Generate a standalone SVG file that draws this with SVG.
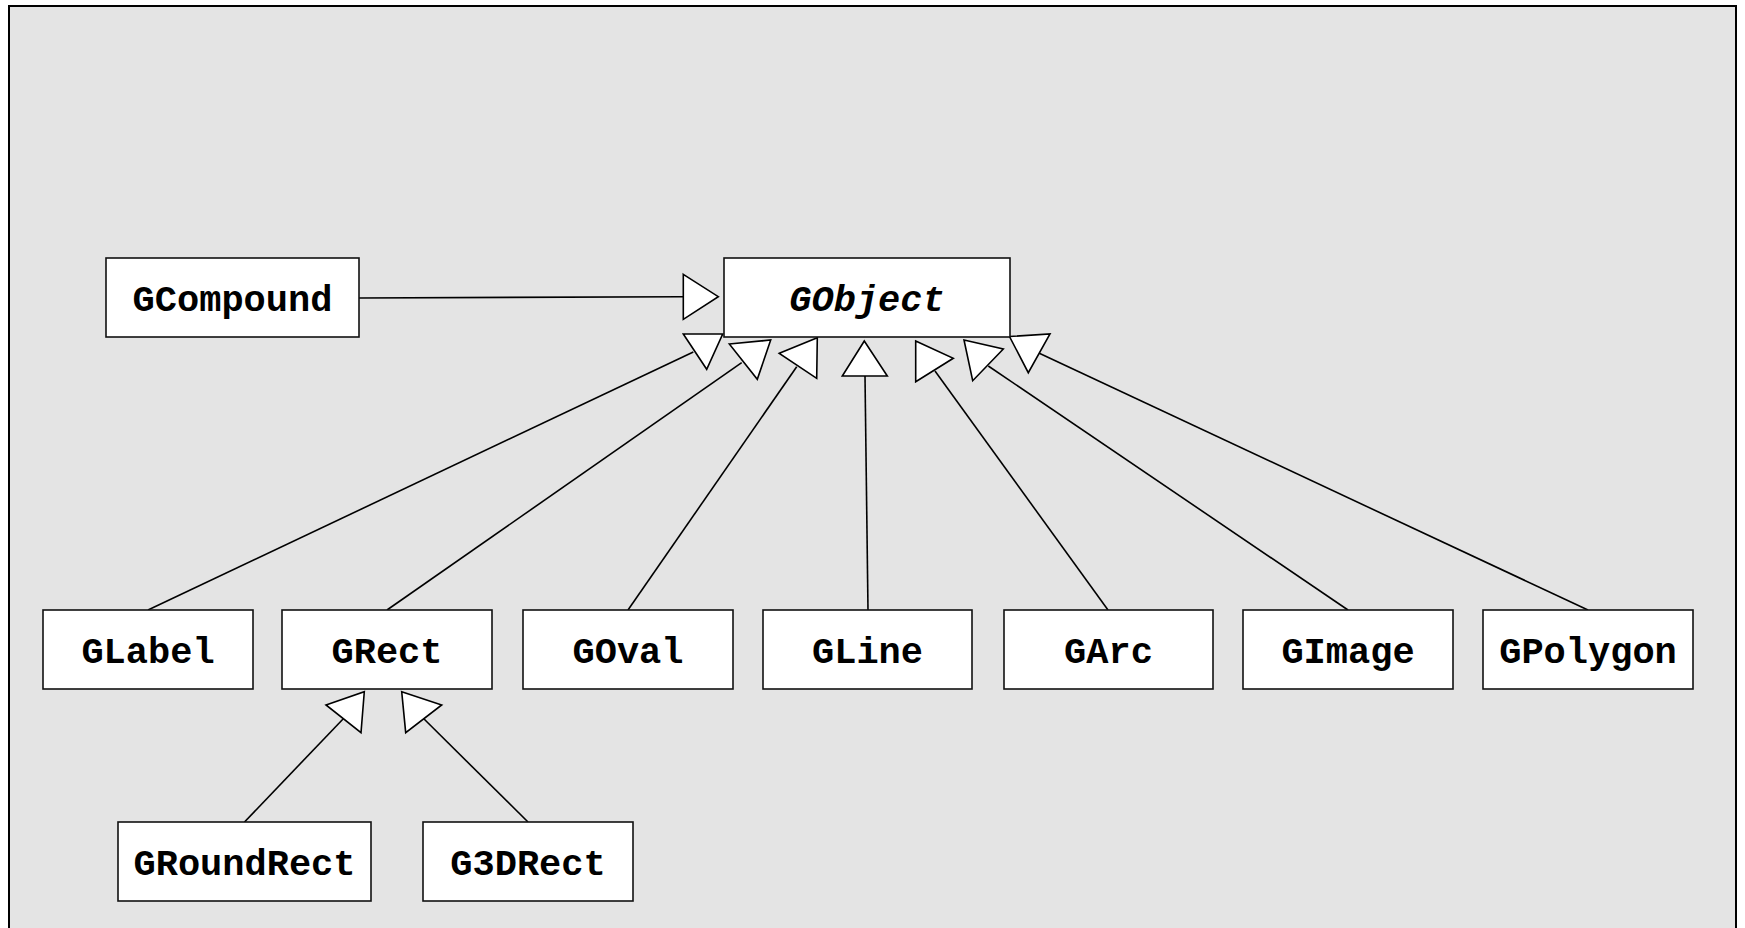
<svg xmlns="http://www.w3.org/2000/svg" width="1745" height="928" viewBox="0 0 1745 928">
  <style>
    .box { fill: #ffffff; stroke: #111111; stroke-width: 1.6; }
    .lbl { font-family: "Liberation Mono", "DejaVu Sans Mono", monospace; font-weight: bold; font-size: 37px; fill: #000000; text-anchor: middle; }
    .abstract { font-style: italic; }
    .edge { stroke: #000000; stroke-width: 1.6; fill: none; }
    .head { fill: #ffffff; stroke: #000000; stroke-width: 1.6; stroke-linejoin: miter; }
  </style>

  <!-- canvas frame -->
  <rect x="0" y="0" width="1745" height="928" fill="#ffffff"/>
  <rect x="9" y="6" width="1727" height="940" fill="#e4e4e4" stroke="#000000" stroke-width="2"/>

  <!-- inheritance connectors -->
  <g id="connectors">
    <line class="edge" x1="359" y1="298" x2="683.3" y2="296.7"/>
    <polygon class="head" points="683.3,274.3 718.3,296.7 683.3,319.3"/>

    <line class="edge" x1="148" y1="610" x2="693.3" y2="352"/>
    <polygon class="head" points="683.3,334 722.7,334 706.7,369.3"/>

    <line class="edge" x1="387" y1="610" x2="741.7" y2="362.7"/>
    <polygon class="head" points="729.3,344 770.7,340 757.3,379.3"/>

    <line class="edge" x1="628" y1="610" x2="796.7" y2="366.7"/>
    <polygon class="head" points="779.3,353.3 817.3,337.7 816.7,378.3"/>

    <line class="edge" x1="868" y1="610" x2="865" y2="376"/>
    <polygon class="head" points="864.3,341 842.3,376 887.3,376"/>

    <line class="edge" x1="1108" y1="610" x2="935" y2="371"/>
    <polygon class="head" points="915.7,341 953.3,358.3 915.7,381.7"/>

    <line class="edge" x1="1348" y1="610" x2="988.3" y2="366"/>
    <polygon class="head" points="964,340 1003.3,349 972.7,380.7"/>

    <line class="edge" x1="1588" y1="610" x2="1039.3" y2="353.3"/>
    <polygon class="head" points="1009.5,336.5 1050,334 1028.3,372.7"/>

    <line class="edge" x1="244.5" y1="822" x2="343.3" y2="718.7"/>
    <polygon class="head" points="326,705 364.3,691.7 361,732.7"/>

    <line class="edge" x1="528" y1="822" x2="423.3" y2="718.3"/>
    <polygon class="head" points="401.7,691.7 441.7,705 405.7,732.7"/>
  </g>

  <!-- class nodes -->
  <g id="GCompound">
    <rect class="box" x="106" y="258" width="253" height="79"/>
    <text class="lbl" x="232.5" y="311">GCompound</text>
  </g>
  <g id="GObject">
    <rect class="box" x="724" y="258" width="286" height="79"/>
    <text class="lbl abstract" x="867" y="311">GObject</text>
  </g>
  <g id="GLabel">
    <rect class="box" x="43" y="610" width="210" height="79"/>
    <text class="lbl" x="148" y="663">GLabel</text>
  </g>
  <g id="GRect">
    <rect class="box" x="282" y="610" width="210" height="79"/>
    <text class="lbl" x="387" y="663">GRect</text>
  </g>
  <g id="GOval">
    <rect class="box" x="523" y="610" width="210" height="79"/>
    <text class="lbl" x="628" y="663">GOval</text>
  </g>
  <g id="GLine">
    <rect class="box" x="763" y="610" width="209" height="79"/>
    <text class="lbl" x="867.5" y="663">GLine</text>
  </g>
  <g id="GArc">
    <rect class="box" x="1004" y="610" width="209" height="79"/>
    <text class="lbl" x="1108.5" y="663">GArc</text>
  </g>
  <g id="GImage">
    <rect class="box" x="1243" y="610" width="210" height="79"/>
    <text class="lbl" x="1348" y="663">GImage</text>
  </g>
  <g id="GPolygon">
    <rect class="box" x="1483" y="610" width="210" height="79"/>
    <text class="lbl" x="1588" y="663">GPolygon</text>
  </g>
  <g id="GRoundRect">
    <rect class="box" x="118" y="822" width="253" height="79"/>
    <text class="lbl" x="244.5" y="875">GRoundRect</text>
  </g>
  <g id="G3DRect">
    <rect class="box" x="423" y="822" width="210" height="79"/>
    <text class="lbl" x="528" y="875">G3DRect</text>
  </g>
</svg>
